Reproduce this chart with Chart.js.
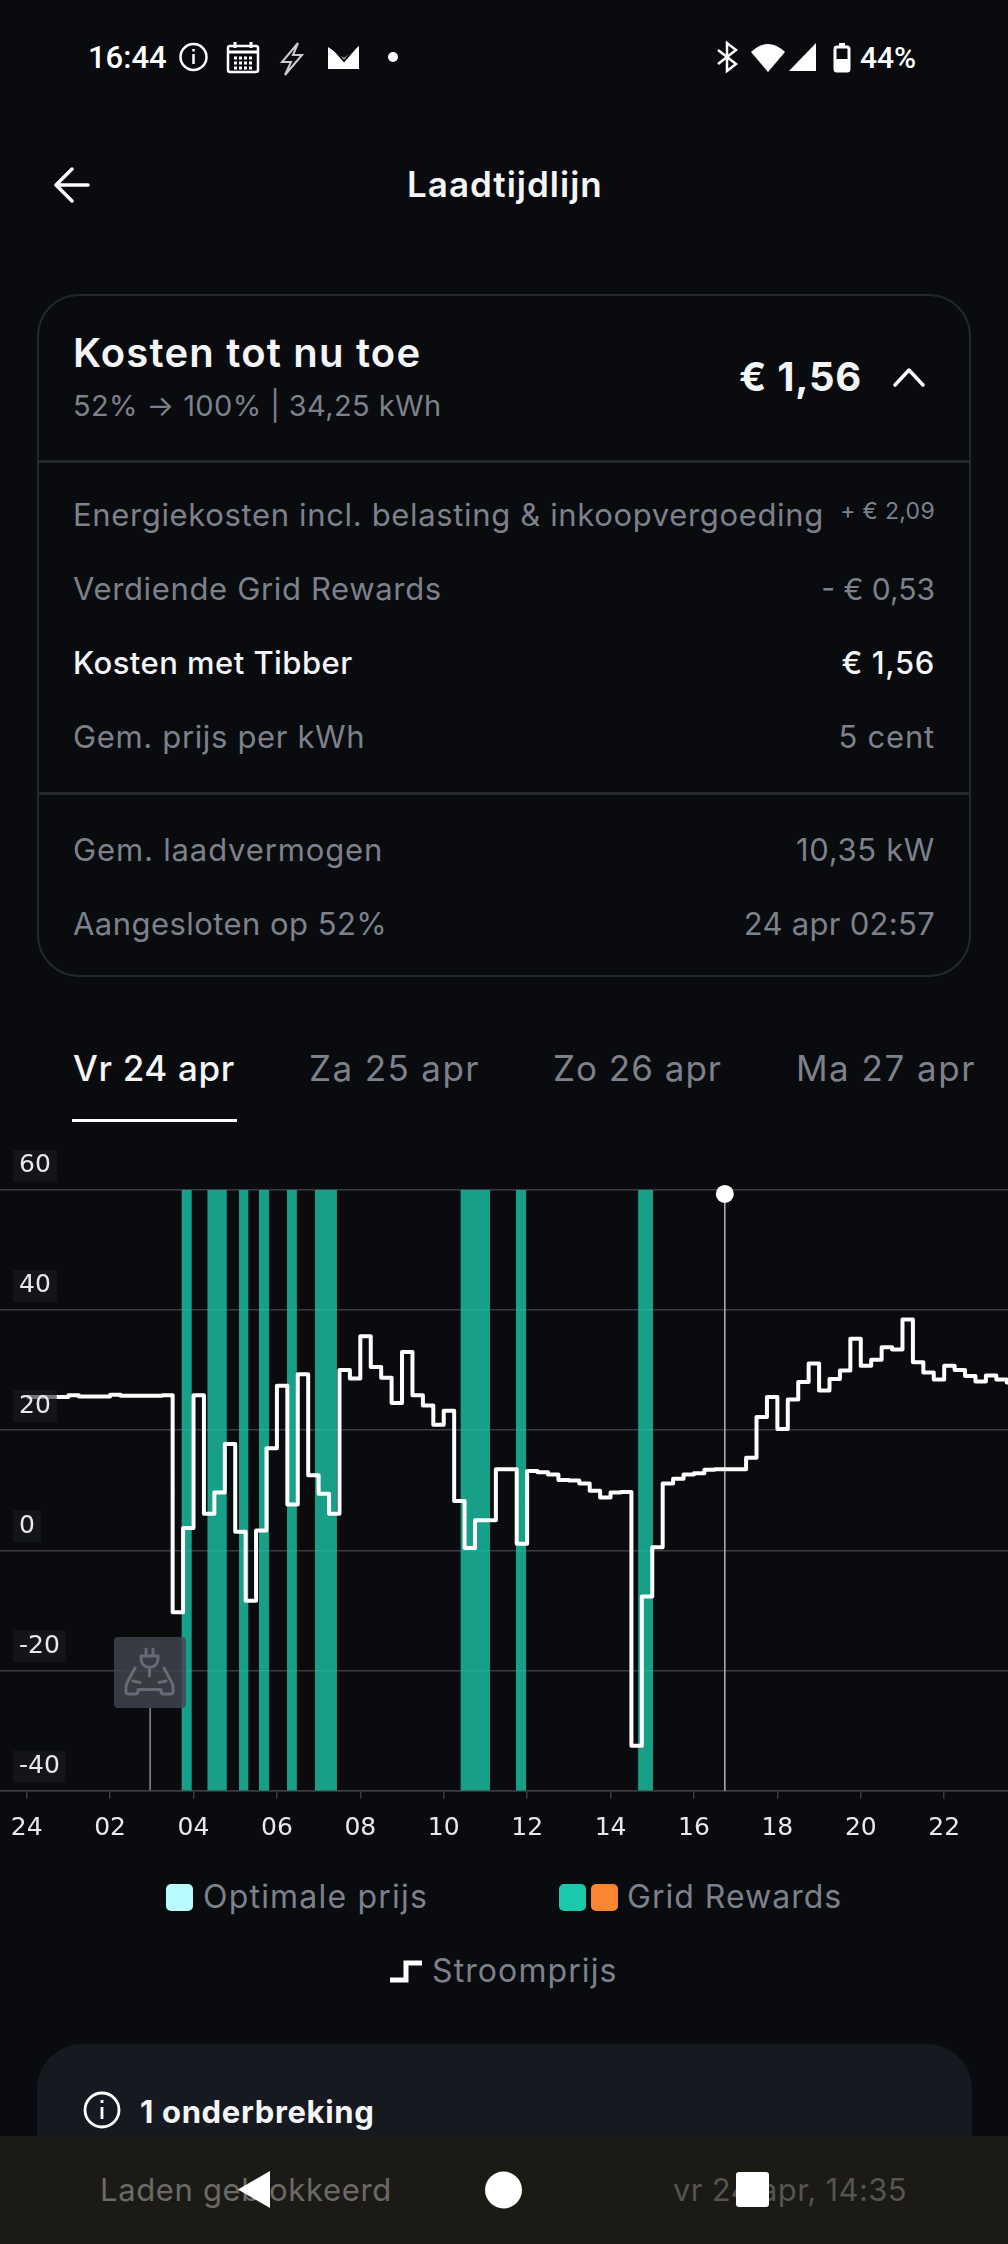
<!DOCTYPE html>
<html lang="nl">
<head>
<meta charset="utf-8">
<title>Laadtijdlijn</title>
<script src="https://cdn.jsdelivr.net/npm/chart.js@4"></script>
<style>
html, body { margin: 0; padding: 0; background: #090b0e; }
body { position: relative; width: 1008px; height: 2244px; overflow: hidden; font-family: Inter, sans-serif; color: #7d818b; }
.t { position: absolute; white-space: nowrap; transform: translateY(-50%); line-height: 1.2; font-size: 31px; letter-spacing: 0.65px; }
.w { color: #f4f5f6; }
.tab { font-size: 35px; top: 1068px; }
.leg { font-size: 32px; }
.card { position: absolute; left: 37px; top: 294px; width: 930px; height: 679px; border: 2.5px solid #24282e; border-radius: 42px; }
.div { position: absolute; left: 38px; width: 932px; height: 2.5px; background: #24282e; }
.sw { position: absolute; width: 27px; height: 27px; border-radius: 5px; top: 1884px; }
#chartBox { position: absolute; left: 0; top: 1150px; width: 1008px; height: 700px; }
#tag { position: absolute; width: 72px; height: 71px; border-radius: 4px; background: rgba(66,70,80,0.82); }
#lower { position: absolute; left: 37px; top: 2044px; width: 935px; height: 240px; background: #161a20; border-radius: 45px; }
#nav { position: absolute; left: 0; top: 2136px; width: 1008px; height: 108px; background: #1b1a15; }
#icons { position: absolute; left: 0; top: 0; z-index: 5; }
</style>
</head>
<body>

<div class="t" style="left:88px;top:57px;font:500 31px Roboto;color:#fff;letter-spacing:0">16:44</div>
<div class="t" style="left:860px;top:57px;font:500 30px Roboto;color:#fff;letter-spacing:0">44%</div>

<div class="t w" style="left:407px;top:184px;font-size:35px;font-weight:600;letter-spacing:1px">Laadtijdlijn</div>

<div class="card"></div>
<div class="div" style="top:460px"></div>
<div class="div" style="top:792px"></div>

<div class="t w" style="left:73px;top:353px;font-size:40px;font-weight:600;letter-spacing:1.2px">Kosten tot nu toe</div>
<div class="t" style="left:73px;top:406px;font-size:29px;letter-spacing:0.4px">52% → 100% | 34,25 kWh</div>
<div class="t w" style="left:739px;top:377px;font-size:40px;font-weight:700;letter-spacing:0.7px">€ 1,56</div>

<div class="t" style="left:73px;top:515px">Energiekosten incl. belasting &amp; inkoopvergoeding</div>
<div class="t" style="right:73px;top:512px;font-size:23px;letter-spacing:0.3px">+ € 2,09</div>
<div class="t" style="left:73px;top:589px">Verdiende Grid Rewards</div>
<div class="t" style="right:73px;top:589px;font-size:30px;letter-spacing:0">- € 0,53</div>
<div class="t w" style="left:73px;top:663px;font-weight:500;letter-spacing:0.45px">Kosten met Tibber</div>
<div class="t w" style="right:73px;top:663px;font-weight:500">€ 1,56</div>
<div class="t" style="left:73px;top:737px">Gem. prijs per kWh</div>
<div class="t" style="right:73px;top:737px;letter-spacing:0.8px">5 cent</div>
<div class="t" style="left:73px;top:850px;letter-spacing:0.85px">Gem. laadvermogen</div>
<div class="t" style="right:73px;top:850px">10,35 kW</div>
<div class="t" style="left:73px;top:924px;letter-spacing:0.45px">Aangesloten op 52%</div>
<div class="t" style="right:73px;top:924px;letter-spacing:0.3px">24 apr 02:57</div>

<div class="t w tab" style="left:73px;font-weight:500">Vr 24 apr</div>
<div class="t tab" style="left:309px;letter-spacing:1.4px">Za 25 apr</div>
<div class="t tab" style="left:553px;letter-spacing:1px">Zo 26 apr</div>
<div class="t tab" style="left:796px;letter-spacing:1.5px">Ma 27 apr</div>
<div style="position:absolute;left:72px;top:1119px;width:165px;height:3px;background:#fff"></div>

<div id="chartBox"><canvas id="grafiek" width="1008" height="700"></canvas></div>
<div id="tag"></div>

<div class="sw" style="left:166px;background:#b9fbfd"></div>
<div class="t leg" style="left:203px;top:1897px;letter-spacing:1.2px">Optimale prijs</div>
<div class="sw" style="left:559px;background:#1cc8ab"></div>
<div class="sw" style="left:591px;background:#fb8632"></div>
<div class="t leg" style="left:627px;top:1897px;letter-spacing:1px">Grid Rewards</div>
<div class="t leg" style="left:432px;top:1971px;letter-spacing:1.1px">Stroomprijs</div>

<div id="lower"></div>
<div class="t w" style="left:140px;top:2112px;font-weight:700">1 onderbreking</div>
<div id="nav"></div>
<div class="t" style="left:100px;top:2190px;color:#6b6a66">Laden geblokkeerd</div>
<div class="t" style="left:673px;top:2190px;color:#55544f;letter-spacing:0.35px">vr 24 apr, 14:35</div>

<svg id="icons" width="1008" height="2244" viewBox="0 0 1008 2244" fill="none" stroke="#fff">
  <!-- statusbalk -->
  <circle cx="193.500" cy="57" r="13" stroke-width="2.500"/><path d="M193.500 54v10M193.500 49v2.500" stroke-width="2.500"/>
  <rect x="228" y="46" width="30" height="26" rx="2" stroke-width="2.500"/><path d="M228 52h30M235 42v6M251 42v6" stroke-width="3"/>
  <path d="M234 58h18M234 63h18M234 68h18" stroke-width="3" stroke-dasharray="3 2"/>
  <path d="M298 43l-16 19h9l-6 13 17-20h-9z" stroke-width="2" stroke="#ccc"/>
  <path d="M328 47l16 11 15-12v23h-31z" fill="#fff" stroke="none"/><path d="M332 47l12 14 12-14" stroke="#090b0e" stroke-width="2"/>
  <circle cx="393" cy="57" r="5" fill="#fff" stroke="none"/>
  <path d="M718 50l18 14-9 7V43l9 7-18 14" stroke-width="2.500"/>
  <path d="M751 52q17-16 34 0l-17 20z" fill="#fff" stroke="none"/>
  <path d="M816 43v28h-27z" fill="#fff" stroke="none"/>
  <rect x="835" y="47" width="14" height="24" rx="2" stroke-width="3"/><rect x="839" y="43" width="6" height="4" fill="#fff" stroke="none"/><rect x="835" y="59" width="14" height="12" rx="2" fill="#fff" stroke="none"/>
  <!-- koptekst -->
  <path d="M88 185H57M72 169L56 185l16 16" stroke-width="3.500" stroke-linecap="round" stroke-linejoin="round"/>
  <path d="M895 385l14-15 14 15" stroke-width="3.500" stroke-linecap="round" stroke-linejoin="round"/>
  <!-- legenda stap -->
  <path d="M390 1980h16v-17h16" stroke-width="5"/>
  <!-- onderbreking -->
  <circle cx="102" cy="2110" r="17" stroke-width="2.800"/><path d="M102 2107v12M102 2100v3" stroke-width="2.800"/>
  <!-- navigatie -->
  <path d="M270 2171v37l-32-18.500z" fill="#fff" stroke="none"/>
  <circle cx="503.500" cy="2190" r="18.500" fill="#fff" stroke="none"/>
  <rect x="736" y="2172" width="33" height="35" rx="3" fill="#fff" stroke="none"/>
</svg>

<script>
const uren = [0, 0.25, 0.5, 0.75, 1, 1.25, 1.5, 1.75, 2, 2.25, 2.5, 2.75, 3, 3.25, 3.5, 3.75, 4, 4.25, 4.5, 4.75, 5, 5.25, 5.5, 5.75,
    6, 6.25, 6.5, 6.75, 7, 7.25, 7.5, 7.75, 8, 8.25, 8.5, 8.75, 9, 9.25, 9.5, 9.75, 10, 10.25, 10.5, 10.75, 11, 11.25, 11.5, 11.75,
    12, 12.25, 12.5, 12.75, 13, 13.25, 13.5, 13.75, 14, 14.25, 14.5, 14.75, 15, 15.25, 15.5, 15.75, 16, 16.25, 16.5, 16.75, 17, 17.25, 17.5, 17.75,
    18, 18.25, 18.5, 18.75, 19, 19.25, 19.5, 19.75, 20, 20.25, 20.5, 20.75, 21, 21.25, 21.5, 21.75, 22, 22.25, 22.5, 22.75, 23, 23.25, 23.5, 23.75, 24];

const stroomprijs = [25.5, 25.5, 25.5, 25.5, 25.8, 25.6, 25.6, 25.6, 25.9, 25.7, 25.7, 25.7, 25.7, 25.8, -10.3, 3.7, 25.8, 6.1, 9.6, 17.7, 3.1, -8.4, 3.3, 17,
    27.4, 7.6, 29.3, 12.5, 9.4, 6.1, 30, 28.6, 35.6, 30.5, 28.7, 24.5, 33, 25.8, 24.1, 20.9, 23.2, 8.2, 0.4, 5, 5, 13.5, 13.5, 1.1,
    13.2, 13, 12.6, 11.7, 11.6, 11.1, 9.9, 8.8, 9.6, 9.7, -32.5, -7.7, 0.5, 11.1, 11.9, 12.6, 12.8, 13.4, 13.5, 13.5, 13.5, 15.4, 22.2, 25.5,
    20.2, 25.1, 28, 31.1, 26.6, 28.5, 29.9, 35.2, 30.7, 31.7, 33.8, 33.4, 38.4, 31.3, 29.6, 28.4, 30.7, 30, 29, 28.1, 29.1, 28.4, 27.9, 27.7, 27.7];

const gridStart = [3.71, 4.33, 5.09, 5.57, 6.24, 6.91, 10.4, 11.73, 14.66];
const gridEind = [3.96, 4.8, 5.32, 5.81, 6.48, 7.44, 11.11, 11.98, 15.02];

const xTickUren = [0, 2, 4, 6, 8, 10, 12, 14, 16, 18, 20, 22];
const xTickLabels = ["24", "02", "04", "06", "08", "10", "12", "14", "16", "18", "20", "22"];
const yTicks = [-40, -20, 0, 20, 40, 60];

const xMin = -0.64;
const xMax = 23.53;
const yMin = -40;
const yMax = 60;
const aangeslotenOm = 2.96;
const tagOnder = -26.2;
const nuOm = 16.74;
const nuPunt = 59.3;

function stroomPunten() {
    return uren.map((u, i) => ({ x: u, y: stroomprijs[i] }));
}

function gridPunten() {
    const punten = [];
    gridStart.forEach((s, i) => {
        punten.push({ x: s, y: yMax }, { x: gridEind[i], y: yMax }, { x: gridEind[i], y: null });
    });
    return punten;
}

const grafiek = new Chart(document.getElementById("grafiek"), {
    type: "line",
    data: {
        datasets: [
            {
                label: "Stroomprijs",
                data: stroomPunten(),
                stepped: true,
                borderColor: "#ffffff",
                borderWidth: 4,
                borderJoinStyle: "round",
                pointRadius: 0,
                order: 1
            },
            {
                label: "Nu",
                data: [{ x: nuOm, y: yMin }, { x: nuOm, y: nuPunt }],
                borderColor: "#b4b5b7",
                borderWidth: 1.5,
                pointRadius: [0, 9],
                pointBackgroundColor: "#ffffff",
                pointBorderWidth: 0,
                clip: false,
                order: 2
            },
            {
                label: "Aangesloten",
                data: [{ x: aangeslotenOm, y: yMin }, { x: aangeslotenOm, y: tagOnder }],
                borderColor: "#76787d",
                borderWidth: 1.8,
                pointRadius: 0,
                order: 2
            },
            {
                label: "Grid Rewards",
                data: gridPunten(),
                borderWidth: 0,
                pointRadius: 0,
                backgroundColor: "rgba(29, 196, 166, 0.8)",
                fill: { value: yMin },
                order: 3
            }
        ]
    },
    options: {
        responsive: false,
        animation: false,
        layout: { autoPadding: false, padding: { top: 39.7, left: 0, right: 0, bottom: 0 } },
        plugins: { legend: { display: false }, tooltip: { enabled: false } },
        scales: {
            x: {
                type: "linear",
                min: xMin,
                max: xMax,
                afterFit: (s) => { s.height = 59.3; s.paddingLeft = 0; s.paddingRight = 0; },
                afterBuildTicks: (s) => { s.ticks = xTickUren.map(v => ({ value: v })); },
                grid: { drawOnChartArea: false, drawTicks: true, tickLength: 8, color: "#3a3c42", lineWidth: 1.5 },
                border: { color: "#3a3c42", width: 1.5 },
                ticks: {
                    autoSkip: false,
                    maxRotation: 0,
                    padding: 15,
                    color: "#e8e9ea",
                    font: { family: "DejaVu Sans", size: 25 },
                    callback: (v) => xTickLabels[xTickUren.indexOf(v)]
                }
            },
            y: {
                min: yMin,
                max: yMax,
                afterFit: (s) => { s.width = 0; s.paddingTop = 0; s.paddingBottom = 0; },
                afterBuildTicks: (s) => { s.ticks = yTicks.map(v => ({ value: v })); },
                grid: { drawTicks: false, color: "#3a3c42", lineWidth: 1.5 },
                border: { display: false },
                ticks: {
                    mirror: true,
                    padding: 19,
                    labelOffset: -24,
                    z: 1,
                    color: "#e8e9ea",
                    font: { family: "DejaVu Sans", size: 25 },
                    showLabelBackdrop: true,
                    backdropColor: "rgba(26, 28, 32, 0.6)",
                    backdropPadding: { left: 6, right: 6, top: 1, bottom: 1 }
                }
            }
        }
    }
});

function zetTag() {
    const box = document.getElementById("chartBox").offsetTop;
    const tag = document.getElementById("tag");
    const x = grafiek.scales.x.getPixelForValue(aangeslotenOm);
    const y = grafiek.scales.y.getPixelForValue(tagOnder);
    tag.style.left = (x - 36) + "px";
    tag.style.top = (box + y - 71) + "px";
    tag.innerHTML = `<svg width="72" height="71" fill="none" stroke="#666b75" stroke-width="3" stroke-linecap="round" stroke-linejoin="round">
        <path d="M32 12v7M39 12v7M27 19h17v3a8.500 8.500 0 0 1-17 0zM35.500 30v9"/>
        <path d="M21 31L14 44Q12 47 12 50V55Q12 57 15 57H21Q24 57 24 54V52.500H47V54Q47 57 50 57H56Q59 57 59 55V50Q59 47 57 44L50 31"/>
        <path d="M19 44l7 1.500M52 44l-7 1.500"/></svg>`;
}

zetTag();
</script>
</body>
</html>
